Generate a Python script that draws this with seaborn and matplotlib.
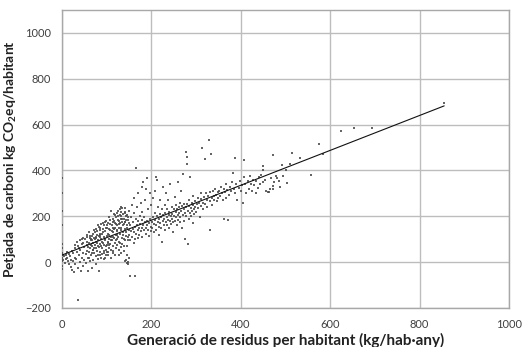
import matplotlib
matplotlib.use("Agg")
import matplotlib.pyplot as plt
import seaborn as sns
import pandas as pd

# Estimated points: waste generation per inhabitant (kg/hab·year) vs carbon footprint (kg CO2eq/hab)
pts_0_50 = [(0,365),(0,300),(0,225),(0,160),(0,80),(0,60),(0,40),(0,20),(0,5),(0,-15),(0,-30),
    (2,30),(3,10),(5,25),(6,-5),(8,15),(10,30),(12,20),(14,5),(15,-10),(16,35),(18,25),(20,-20),(20,10),
    (22,-35),(24,5),(25,40),(26,-45),(28,20),(30,60),(30,-10),(32,15),(33,45),(35,-165),(35,70),(36,-25),
    (38,30),(40,95),(40,0),(41,55),(42,-40),(44,20),(45,80),(46,105),(47,40),(48,-15),(50,65),(50,10),
    (12,45),(22,50),(28,75),(34,90),(38,60),(44,100),(48,85)]
pts_50_110 = [(52,100),(53,35),(54,-5),(55,75),(56,50),(57,110),(58,20),(59,-40),(60,85),(60,45),(61,130),
    (62,60),(63,5),(64,95),(65,30),(66,70),(67,115),(68,-25),(69,55),(70,85),(70,10),(71,140),(72,40),
    (73,75),(74,100),(75,60),(75,-10),(76,25),(77,90),(78,120),(79,50),(80,70),(80,160),(80,30),
    (81,95),(82,-40),(83,65),(84,110),(85,45),(85,140),(86,80),(87,20),(88,100),(89,60),(90,125),(90,35),
    (91,170),(92,85),(93,50),(94,110),(95,75),(95,15),(96,135),(97,95),(98,55),(98,180),(99,30),(100,115),
    (100,75),(101,150),(102,90),(103,45),(104,125),(105,100),(105,60),(106,195),(107,140),(108,80),(109,20),
    (110,110),(110,225),(110,55),
    (55,90),(58,65),(62,105),(66,40),(68,95),(72,60),(74,130),(78,85),(82,115),(84,30),(86,150),(88,70),
    (92,130),(94,40),(96,100),(98,70),(100,160),(102,30),(104,85),(106,120),(108,165),(109,95),
    (60,20),(64,75),(70,55),(76,105),(80,15),(86,125),(90,90),(96,20),(100,45),(106,75),
    (57,120),(63,115),(69,125),(75,145),(79,135),(83,155),(87,165),(93,160),(97,175),(103,170),(107,185),
    (65,100),(71,105),(77,110),(85,120),(91,145),(99,150),(105,145)]
pts_110_150 = [(111,160),(112,95),(113,130),(114,70),(115,175),(115,40),(116,105),(117,145),(118,85),
    (119,205),(120,120),(120,60),(121,165),(122,100),(123,135),(124,215),(124,75),(125,185),(126,110),
    (127,150),(128,90),(128,30),(129,230),(130,125),(130,170),(131,65),(132,200),(133,140),(134,105),
    (135,235),(135,80),(136,160),(137,120),(138,190),(139,50),(140,145),(140,215),(141,95),(142,175),
    (143,10),(143,130),(144,200),(145,70),(145,160),(146,-5),(147,110),(148,185),(148,0),(149,140),
    (150,20),(150,225),(142,5),(147,-10),(152,-62),(163,-62),
    (112,135),(114,110),(116,180),(118,150),(120,95),(122,140),(124,120),(126,200),(128,165),(130,85),
    (132,150),(134,190),(136,130),(138,100),(140,175),(142,220),(144,115),(146,150),(148,95),(150,170),
    (113,50),(119,30),(127,55),(133,40),(139,70),(145,30),
    (113,190),(117,210),(121,195),(125,225),(129,205),(131,240),(133,220),(137,210),(141,235),(145,205),
    (115,150),(119,170),(123,160),(127,180),(131,190),(135,175),(139,165),(143,185),(147,195)]
pts_150_250 = [(151,120),(152,160),(153,95),(154,195),(155,135),(156,250),(157,110),(158,175),(159,145),
    (160,85),(160,215),(161,130),(162,280),(163,155),(164,100),(165,190),(166,410),(166,125),(167,160),
    (168,240),(169,140),(170,105),(170,180),(171,300),(172,150),(173,120),(174,200),(175,165),(176,260),
    (177,135),(178,330),(178,185),(179,150),(180,110),(180,220),(181,160),(182,350),(183,140),(184,195),
    (185,175),(186,270),(187,150),(188,125),(189,320),(190,365),(190,180),(191,160),(192,140),(193,230),
    (194,115),(195,170),(196,300),(197,190),(198,155),(199,135),(200,250),
    (201,175),(202,150),(203,280),(204,195),(205,130),(206,165),(207,215),(208,310),(209,185),(210,370),
    (210,160),(211,140),(212,200),(213,360),(214,175),(215,240),(216,155),(217,190),(218,120),(219,210),
    (220,270),(220,170),(221,195),(222,150),(223,230),(224,90),(225,180),(226,205),(227,330),(228,160),
    (229,190),(230,140),(230,250),(231,215),(232,175),(233,300),(234,195),(235,160),(236,230),(237,185),
    (238,270),(239,205),(240,150),(240,220),(241,180),(242,340),(243,200),(244,165),(245,240),(246,190),
    (247,210),(248,130),(249,175),(250,230)]
pts_250_400 = [(251,200),(252,285),(253,180),(254,220),(255,195),(256,250),(257,160),(258,230),(259,205),
    (260,350),(260,185),(261,240),(262,215),(263,175),(264,260),(265,195),(266,310),(267,225),(268,150),
    (269,245),(270,205),(271,385),(272,230),(273,180),(274,255),(275,215),(276,100),(277,240),(278,480),
    (278,200),(279,460),(280,430),(280,255),(281,225),(282,80),(283,190),(284,245),(285,270),(286,215),
    (287,370),(288,235),(289,200),(290,260),(291,225),(292,170),(293,250),(294,290),(295,230),(296,210),
    (297,265),(298,240),(300,220),
    (302,255),(304,280),(305,235),(307,260),(308,195),(310,300),(311,245),(312,275),(313,500),(315,260),
    (316,230),(318,285),(320,450),(320,255),(322,300),(324,270),(325,240),(327,290),(328,535),(330,265),
    (330,140),(332,305),(334,470),(335,280),(336,250),(338,310),(340,290),(341,270),(343,320),(345,295),
    (347,265),(348,305),(350,280),
    (352,310),(354,290),(356,330),(358,300),(360,270),(362,320),(363,190),(365,305),(367,280),(368,340),
    (370,315),(372,185),(374,295),(375,330),(378,310),(380,350),(382,390),(384,320),(386,455),(388,300),
    (390,340),(392,270),(395,325),(398,355),(400,310)]
pts_400_up = [(402,335),(405,260),(408,445),(408,370),(410,340),(412,300),(415,355),(418,320),(420,375),
    (422,340),(425,310),(428,360),(430,335),(433,300),(435,355),(438,325),(440,370),(443,340),(446,380),
    (449,418),(449,404),(450,350),
    (455,360),(457,310),(460,305),(463,308),(466,320),(468,365),(471,317),(473,333),(473,467),(475,350),
    (478,376),(482,368),(486,355),(488,328),(493,426),(495,376),(502,404),(504,345),(511,430),(515,475),
    (532,455),(558,382),(574,517),(583,470),(625,570),(654,587),(694,587),(855,693)]

all_pts = pts_0_50 + pts_50_110 + pts_110_150 + pts_150_250 + pts_250_400 + pts_400_up
df = pd.DataFrame(all_pts, columns=["residus", "petjada"])

x_ticks = [0, 200, 400, 600, 800, 1000]
y_ticks = [-200, 0, 200, 400, 600, 800, 1000]

sns.set_style("white")
plt.rcParams["font.family"] = ["Lato", "DejaVu Sans"]
plt.rcParams["mathtext.fontset"] = "custom"
plt.rcParams["mathtext.rm"] = "Lato"
plt.rcParams["mathtext.bf"] = "Lato:bold"

fig = plt.figure(figsize=(5.22, 3.47), dpi=100)
ax = fig.add_axes([62/522, 1-308/347, (509-62)/522, (308-10)/347])

sns.scatterplot(data=df, x="residus", y="petjada", ax=ax, marker="s", s=3,
                color="#4a4a4a", linewidth=0, alpha=0.85, zorder=3)
sns.regplot(data=df, x="residus", y="petjada", ax=ax, scatter=False, ci=None, truncate=True,
            line_kws=dict(color="#111111", lw=0.8, zorder=4))

ax.set_xlim(0, 1000)
ax.set_ylim(-200, 1100)
ax.set_xticks(x_ticks)
ax.set_yticks(y_ticks)
ax.grid(True, color="#bdbdbd", lw=1.0, zorder=0)
ax.set_axisbelow(True)
for s in ax.spines.values():
    s.set_color("#a8a8a8")
    s.set_linewidth(1.0)
ax.tick_params(length=0, labelsize=8, colors="#404040", pad=8)
ax.set_xlabel("Generació de residus per habitant (kg/hab·any)", fontsize=11, fontweight="bold",
              color="#222222", labelpad=2)
ax.set_ylabel(r"Petjada de carboni kg CO$_\mathbf{2}$eq/habitant", fontsize=10, fontweight="bold",
              color="#222222", labelpad=4)

fig.savefig("out.png", dpi=100)
